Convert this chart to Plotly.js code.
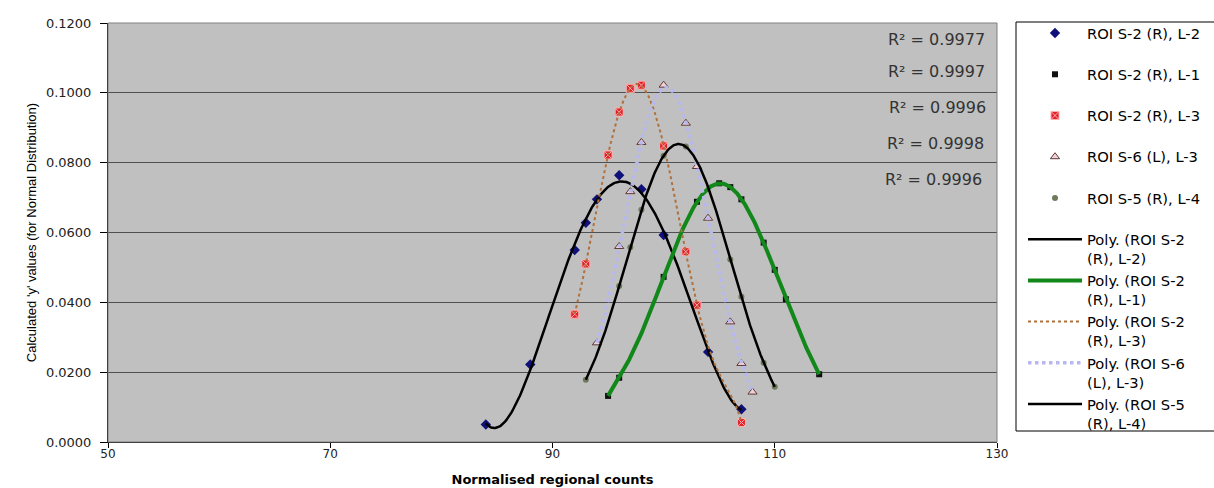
<!DOCTYPE html>
<html>
<head>
<meta charset="utf-8">
<script src="https://cdn.plot.ly/plotly-3.0.1.min.js"></script>
<style>html,body{margin:0;padding:0;background:#fff}#chart{width:1214px;height:488px}</style>
</head>
<body>
<div id="chart"></div>
<script>
// ---- data ----
const seriesNames = ['ROI S-2 (R), L-2', 'ROI S-2 (R), L-1', 'ROI S-2 (R), L-3', 'ROI S-6 (L), L-3', 'ROI S-5 (R), L-4'];
const trendNames = ['Poly. (ROI S-2<br>(R), L-2)', 'Poly. (ROI S-2<br>(R), L-1)', 'Poly. (ROI S-2<br>(R), L-3)', 'Poly. (ROI S-6<br>(L), L-3)', 'Poly. (ROI S-5<br>(R), L-4)'];
const rSquared = ['0.9977', '0.9997', '0.9996', '0.9998', '0.9996'];

const xL2 = [84, 88, 92, 93, 94, 96, 98, 100, 104, 107];
const yL2 = [0.0050, 0.0222, 0.0550, 0.0628, 0.0695, 0.0764, 0.0724, 0.0593, 0.0258, 0.0094];

const xL1 = [95, 96, 100, 103, 105, 106, 107, 109, 110, 111, 114];
const yL1 = [0.0132, 0.0184, 0.0473, 0.0688, 0.0741, 0.0730, 0.0695, 0.0571, 0.0493, 0.0409, 0.0194];

const xL3 = [92, 93, 95, 96, 97, 98, 100, 102, 103, 107];
const yL3 = [0.0366, 0.0510, 0.0822, 0.0945, 0.1013, 0.1022, 0.0848, 0.0545, 0.0392, 0.0056];

const xS6 = [94, 96, 97, 98, 100, 102, 103, 104, 106, 107, 108];
const yS6 = [0.0284, 0.0560, 0.0717, 0.0858, 0.1022, 0.0913, 0.0789, 0.0641, 0.0344, 0.0225, 0.0143];

const xS5 = [93, 96, 97, 98, 100, 102, 106, 107, 109, 110];
const yS5 = [0.0178, 0.0447, 0.0558, 0.0665, 0.0820, 0.0846, 0.0523, 0.0416, 0.0227, 0.0158];

const xTicks = [50, 70, 90, 110, 130];
const yTicks = [0, 0.02, 0.04, 0.06, 0.08, 0.1, 0.12];
const xTitle = 'Normalised regional counts';
const yTitle = "Calculated 'y' values (for Normal Distribution)";

// ---- polynomial trendlines (least squares, like Excel's "Poly." trendline) ----
const polyOrders = [4, 6, 6, 6, 6];
function polyfit(xs, ys, deg) {
  const n = xs.length;
  const mx = xs.reduce((a, b) => a + b, 0) / n;
  const sx = (Math.max(...xs) - Math.min(...xs)) / 2 || 1;
  const ts = xs.map(x => (x - mx) / sx);
  const m = deg + 1;
  const A = [], b = [];
  for (let i = 0; i < m; i++) {
    A.push(new Array(m).fill(0)); b.push(0);
  }
  for (let k = 0; k < n; k++) {
    for (let i = 0; i < m; i++) {
      b[i] += ys[k] * Math.pow(ts[k], i);
      for (let j = 0; j < m; j++) A[i][j] += Math.pow(ts[k], i + j);
    }
  }
  for (let c = 0; c < m; c++) {
    let p = c;
    for (let r = c + 1; r < m; r++) if (Math.abs(A[r][c]) > Math.abs(A[p][c])) p = r;
    [A[c], A[p]] = [A[p], A[c]]; [b[c], b[p]] = [b[p], b[c]];
    for (let r = c + 1; r < m; r++) {
      const f = A[r][c] / A[c][c];
      for (let j = c; j < m; j++) A[r][j] -= f * A[c][j];
      b[r] -= f * b[c];
    }
  }
  const coef = new Array(m).fill(0);
  for (let r = m - 1; r >= 0; r--) {
    let s = b[r];
    for (let j = r + 1; j < m; j++) s -= A[r][j] * coef[j];
    coef[r] = s / A[r][r];
  }
  return x => { const t = (x - mx) / sx; let v = 0; for (let i = m - 1; i >= 0; i--) v = v * t + coef[i]; return v; };
}
function trend(xs, ys, order) {
  const f = polyfit(xs, ys, Math.min(order, xs.length - 1));
  const lo = Math.min(...xs), hi = Math.max(...xs), N = 240;
  const tx = [], ty = [];
  for (let i = 0; i <= N; i++) { const x = lo + (hi - lo) * i / N; tx.push(x); ty.push(f(x)); }
  return {x: tx, y: ty};
}

const xs = [xL2, xL1, xL3, xS6, xS5];
const ys = [yL2, yL1, yL3, yS6, yS5];

const markerStyles = [
  {symbol: 'diamond', size: 8, color: '#10107a', line: {width: 0}},
  {symbol: 'square', size: 6, color: '#101010', line: {width: 0}},
  {symbol: 'square-x', size: 8, color: '#e0202a', line: {color: '#ffb0b0', width: 1}},
  {symbol: 'triangle-up', size: 8, color: '#f2d0d6', line: {color: '#5a3a3a', width: 1}},
  {symbol: 'circle', size: 6, color: '#6e7a5c', line: {width: 0}}
];
const lineStyles = [
  {color: '#000000', width: 2.5},
  {color: '#12881a', width: 4},
  {color: '#b0703c', width: 2, dash: 'dot'},
  {color: '#b8b8f0', width: 3.5, dash: 'dot'},
  {color: '#000000', width: 2.5}
];

const traces = [];
for (let i = 0; i < 5; i++) {
  traces.push({
    type: 'scatter', mode: 'markers', x: xs[i], y: ys[i],
    name: seriesNames[i] + '<br>\u00a0', marker: markerStyles[i], hoverinfo: 'x+y+name'
  });
}
for (let i = 0; i < 5; i++) {
  const t = trend(xs[i], ys[i], polyOrders[i]);
  traces.push({
    type: 'scatter', mode: 'lines', x: t.x, y: t.y,
    name: trendNames[i], line: Object.assign({shape: 'linear'}, lineStyles[i]), hoverinfo: 'skip'
  });
}

const L = 108, R = 217, T = 23, B = 46, W = 1214, H = 488;
const pw = W - L - R, ph = H - T - B;
const px2paperX = px => (px - L) / pw;
const px2paperY = py => (H - B - py) / ph;

const r2Y = [0.1152, 0.1060, 0.0957, 0.0854, 0.0753];
const r2X = [129.1, 129.1, 129.2, 129.0, 128.8];
const annotations = rSquared.map((v, i) => ({
  x: r2X[i], y: r2Y[i], xref: 'x', yref: 'y', xanchor: 'right', yanchor: 'middle',
  text: 'R² = ' + v, showarrow: false,
  font: {family: 'DejaVu Sans', size: 16, color: '#333333'}
}));

const layout = {
  width: W, height: H,
  margin: {l: L, r: R, t: T, b: B, autoexpand: false},
  paper_bgcolor: '#ffffff', plot_bgcolor: '#c0c0c0',
  font: {family: 'DejaVu Sans', color: '#222222'},
  showlegend: true,
  xaxis: {
    range: [50, 130], tickvals: xTicks, ticks: 'outside', ticklen: 5, tickcolor: '#000',
    showline: true, linecolor: '#000', linewidth: 1, showgrid: false, zeroline: false,
    ticklabelstandoff: -4,
    tickfont: {family: 'DejaVu Sans', size: 12, color: '#222'},
    title: {text: xTitle, font: {family: 'DejaVu Sans', size: 13, weight: 'bold', color: '#000'}, standoff: 14}
  },
  yaxis: {
    range: [0, 0.12], tickvals: yTicks, tickformat: '.4f', ticks: 'outside', ticklen: 7, tickcolor: '#000',
    showline: true, linecolor: '#000', linewidth: 1, showgrid: true, gridcolor: '#505050', gridwidth: 1,
    zeroline: false, ticklabelstandoff: 6,
    tickfont: {family: 'DejaVu Sans', size: 13, color: '#222'},
    title: {text: yTitle, font: {family: 'Liberation Sans', size: 13, color: '#000'}, standoff: 6}
  },
  legend: {
    x: px2paperX(1023), y: px2paperY(17), xanchor: 'left', yanchor: 'top',
    bgcolor: 'rgba(0,0,0,0)', borderwidth: 0, itemwidth: 54, valign: 'top',
    traceorder: 'normal', tracegroupgap: 0, maxheight: 480,
    font: {family: 'DejaVu Sans', size: 14.7, color: '#000'}
  },
  shapes: [
    {type: 'rect', xref: 'paper', yref: 'paper', x0: 0, x1: 1, y0: 0, y1: 1, line: {color: '#808080', width: 1}, layer: 'above'},
    {type: 'rect', xref: 'paper', yref: 'paper', x0: px2paperX(1016), x1: px2paperX(1300), y0: px2paperY(431), y1: px2paperY(22), line: {color: '#000', width: 1}, fillcolor: 'rgba(0,0,0,0)', layer: 'above'}
  ],
  annotations: annotations
};

Plotly.newPlot('chart', traces, layout, {displayModeBar: false, staticPlot: true});
</script>
</body>
</html>
